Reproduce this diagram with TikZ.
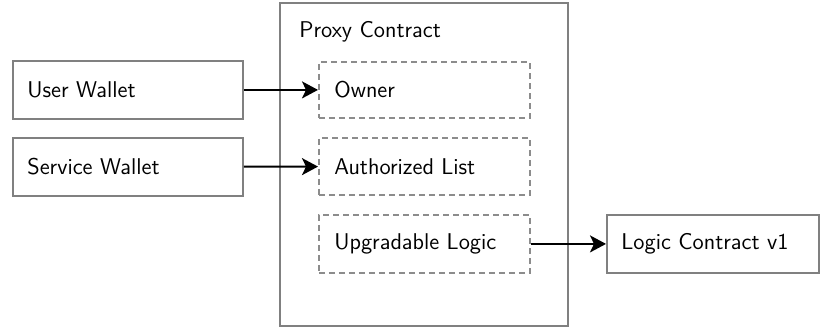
\documentclass[tikz,border=0pt]{standalone}
\usetikzlibrary{arrows.meta}
\begin{document}
\begin{tikzpicture}[x=0.5pt,y=-0.5pt,
  every node/.style={font=\sffamily\fontsize{11.4}{13}\selectfont},
  solidbox/.style={draw=black!50,line width=0.9pt,inner sep=0pt},
  dashbox/.style={draw=black!45,line width=0.9pt,dash pattern=on 3pt off 2pt,inner sep=0pt},
  link/.style={draw=black,line width=1pt,-{Stealth[length=8pt,width=8.5pt,inset=2pt]}}]
\useasboundingbox (0,0) rectangle (823,329);
% outer contract frame
\draw[solidbox] (280,3) rectangle (568,326);
\node[anchor=base west,inner sep=0pt] (ptitle) at (299,37) {Proxy Contract};
% wallets
\node[solidbox,minimum width=115pt,minimum height=29pt,anchor=north west] (user) at (12,60) {};
\node[anchor=west,inner sep=0pt] at ([xshift=7.5pt]user.west) {User Wallet};
\node[solidbox,minimum width=115pt,minimum height=29pt,anchor=north west] (service) at (12,137) {};
\node[anchor=west,inner sep=0pt] at ([xshift=7.5pt]service.west) {Service Wallet};
% fields inside the proxy
\node[dashbox,minimum width=105.5pt,minimum height=28pt,anchor=north west] (owner) at (318,61) {};
\node[anchor=west,inner sep=0pt] at ([xshift=8pt]owner.west) {Owner};
\node[dashbox,minimum width=105.5pt,minimum height=28.5pt,anchor=north west] (auth) at (318,137) {};
\node[anchor=west,inner sep=0pt] at ([xshift=8pt]auth.west) {Authorized List};
\node[dashbox,minimum width=105.5pt,minimum height=29pt,anchor=north west] (upg) at (318,214) {};
\node[anchor=west,inner sep=0pt] at ([xshift=8pt]upg.west) {Upgradable Logic};
% implementation
\node[solidbox,minimum width=106pt,minimum height=29pt,anchor=north west] (logic) at (606,214) {};
\node[anchor=west,inner sep=0pt] at ([xshift=7.5pt]logic.west) {Logic Contract v1};
% connectors
\draw[link] (user) -- (owner);
\draw[link] (service) -- (auth);
\draw[link] (upg) -- (logic);
\end{tikzpicture}
\end{document}
